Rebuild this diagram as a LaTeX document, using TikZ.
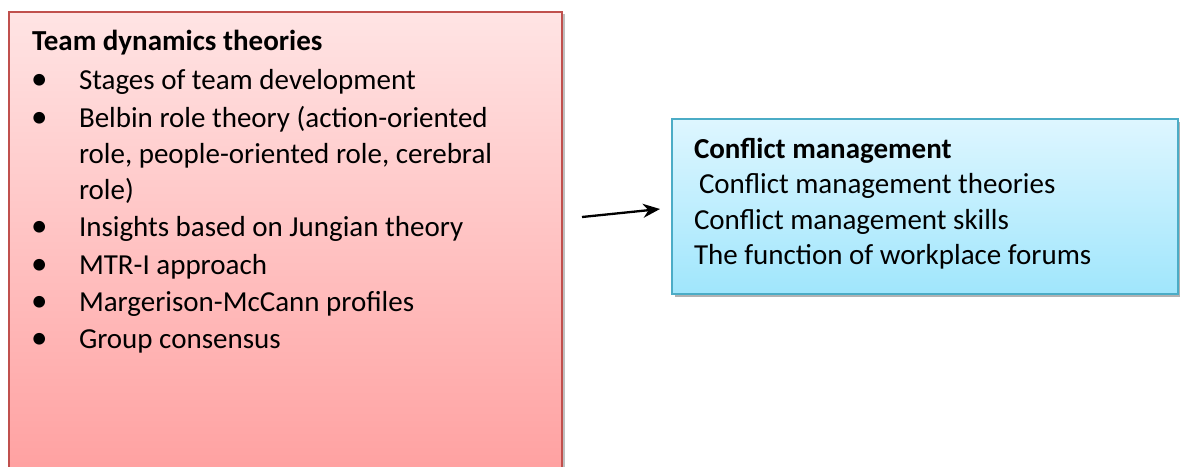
\documentclass[tikz,border=0pt]{standalone}
\usepackage{fontspec}
\setmainfont{Carlito}
\usetikzlibrary{shadows,arrows.meta}
\definecolor{redborder}{RGB}{192,80,77}
\definecolor{redtop}{RGB}{255,228,228}
\definecolor{redbot}{RGB}{255,158,158}
\definecolor{blueborder}{RGB}{75,172,198}
\definecolor{bluetop}{RGB}{222,246,255}
\definecolor{bluebot}{RGB}{160,230,252}
\begin{document}
\begin{tikzpicture}[x=1pt,y=-1pt,
  every node/.style={inner sep=0pt,outer sep=0pt},
  txt/.style={anchor=base west,font=\fontsize{29}{37}\selectfont},
  bold/.style={txt,font=\fontsize{29}{37}\selectfont\bfseries},
  bul/.style={anchor=base west,font=\fontsize{33}{37}\selectfont},
  redbox/.style={draw=redborder,line width=2pt,top color=redtop,bottom color=redbot,
    drop shadow={shadow xshift=3pt,shadow yshift=-2pt,opacity=0.25,fill=black}},
  bluebox/.style={draw=blueborder,line width=2pt,top color=bluetop,bottom color=bluebot,
    drop shadow={shadow xshift=3pt,shadow yshift=-3pt,opacity=0.3,fill=black}},
  arr/.style={-{Stealth[length=17pt,width=14pt]},line width=2.3pt,black}]
\useasboundingbox (0,0) rectangle (1180,466);
\begin{scope}
\clip (0,0) rectangle (1180,466);
\node[redbox,minimum width=553pt,minimum height=480pt,anchor=north west] (team) at (9,12) {};
\end{scope}
\node[bluebox,minimum width=506pt,minimum height=175pt,anchor=north west] (conf) at (672,119) {};
% left box text
\node[bold] (t0) at (32,50) {Team dynamics theories};
\node[bul] (b1) at (31,89) {•};
\node[txt] (t1) at (79,89) {Stages of team development};
\node[bul] (b2) at (31,127) {•};
\node[txt] (t2) at (79,127) {Belbin role theory (action-oriented};
\node[txt] (t2b) at (79,163) {role, people-oriented role, cerebral};
\node[txt] (t2c) at (79,199) {role)};
\node[bul] (b3) at (31,236) {•};
\node[txt] (t3) at (79,236) {Insights based on Jungian theory};
\node[bul] (b4) at (31,274) {•};
\node[txt] (t4) at (79,274) {MTR-I approach};
\node[bul] (b5) at (31,311) {•};
\node[txt] (t5) at (79,311) {Margerison-McCann profiles};
\node[bul] (b6) at (31,348) {•};
\node[txt] (t6) at (79,348) {Group consensus};
% right box text
\node[bold] (c0) at (694,158) {Conflict management};
\node[txt] (c1) at (694,193) {\hspace{5pt}Conflict management theories};
\node[txt] (c2) at (694,229) {Conflict management skills};
\node[txt] (c3) at (694,264) {The function of workplace forums};
% arrow
\coordinate (a0) at (582,217);
\draw[arr] (a0) -- ([xshift=-12pt,yshift=-2.5pt]conf.west);
\end{tikzpicture}
\end{document}
